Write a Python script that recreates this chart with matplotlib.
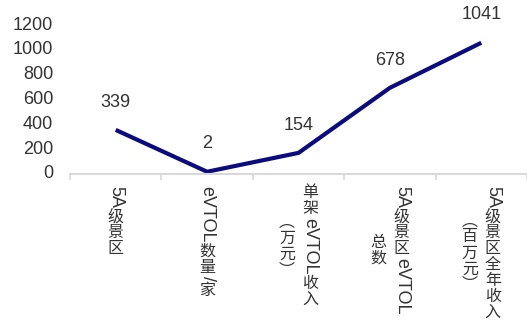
import matplotlib
matplotlib.use('Agg')
import matplotlib.pyplot as plt
from matplotlib.font_manager import FontProperties
from matplotlib.transforms import offset_copy

# categories (one entry per line of the axis label) and values
categories = [
    ['5A级景区'],
    ['eVTOL数量/家'],
    ['单架eVTOL收入', '（万元）'],
    ['5A级景区eVTOL', '总数'],
    ['5A级景区全年收入', '（百万元）'],
]
values = [339, 2, 154, 678, 1041]
yticks = [0, 200, 400, 600, 800, 1000, 1200]

LINE_COLOR = '#0B0B80'
TEXT_COLOR = '#333333'
AXIS_COLOR = '#D9D9D9'
LATIN = 'Liberation Sans'
CJK = 'Noto Sans CJK SC'
DPI = 100

fig = plt.figure(figsize=(5.27, 3.36), dpi=DPI)
ax = fig.add_axes([70 / 527, 164 / 336, 457 / 527, 149 / 336])

x = list(range(len(values)))
ax.plot(x, values, color=LINE_COLOR, lw=3, solid_capstyle='butt', clip_on=False)

for xi, v in zip(x, values):
    ax.annotate(str(v), (xi, v), xytext=(0, 20), textcoords='offset points',
                ha='center', va='center', fontsize=13, family=LATIN, color=TEXT_COLOR)

ax.set_xlim(-0.5, len(values) - 0.5)
ax.set_ylim(0, 1200)
ax.set_yticks(yticks)
ax.set_yticklabels([str(t) for t in yticks], family=LATIN, fontsize=13, color=TEXT_COLOR)
ax.tick_params(axis='y', length=0, pad=12)

# category boundaries get small tick marks, labels are drawn by hand below
ax.set_xticks([i - 0.5 for i in range(len(values) + 1)])
ax.set_xticklabels([])
ax.tick_params(axis='x', length=4, width=1.2, color=AXIS_COLOR, direction='out')

for side in ['left', 'right', 'top']:
    ax.spines[side].set_visible(False)
ax.spines['bottom'].set_color(AXIS_COLOR)
ax.spines['bottom'].set_linewidth(1.5)
ax.spines['bottom'].set_position(('outward', 1.5))

# vertical category labels: latin runs turned sideways, CJK glyphs kept upright
renderer = fig.canvas.get_renderer()
latin_prop = FontProperties(family=LATIN, size=13)
cjk_size = 11.5
cjk_adv = cjk_size * DPI / 72
vertical_forms = {'（': '\ufe35', '）': '\ufe36'}


def split_runs(line):
    runs = []
    for ch in line:
        latin = ord(ch) < 128
        if latin and runs and runs[-1][1]:
            runs[-1][0] += ch
        else:
            runs.append([ch, latin])
    out = []
    for s, latin in runs:
        if latin:
            w = renderer.get_text_width_height_descent(s, latin_prop, False)[0]
            out.append((s, True, w + 2))
        else:
            out.append((vertical_forms.get(s, s), False, cjk_adv))
    return out


base = ax.get_xaxis_transform()
top_gap = 13
col_gap = 23

for xi, lines in zip(x, categories):
    measured = [split_runs(line) for line in lines]
    lengths = [sum(r[2] for r in runs) for runs in measured]
    longest = max(lengths)
    n = len(lines)
    for i, runs in enumerate(measured):
        dx = ((n - 1) / 2 - i) * col_gap
        pos = top_gap + (longest - lengths[i]) / 2
        for s, latin, length in runs:
            tr = offset_copy(base, fig=fig, x=dx, y=-(pos + length / 2), units='dots')
            if latin:
                ax.text(xi, 0, s, transform=tr, rotation=270, ha='center', va='center',
                        family=LATIN, fontsize=13, color=TEXT_COLOR, clip_on=False)
            else:
                ax.text(xi, 0, s, transform=tr, ha='center', va='center',
                        family=CJK, fontsize=cjk_size, color=TEXT_COLOR, clip_on=False)
            pos += length

fig.savefig('out.png', dpi=DPI)
